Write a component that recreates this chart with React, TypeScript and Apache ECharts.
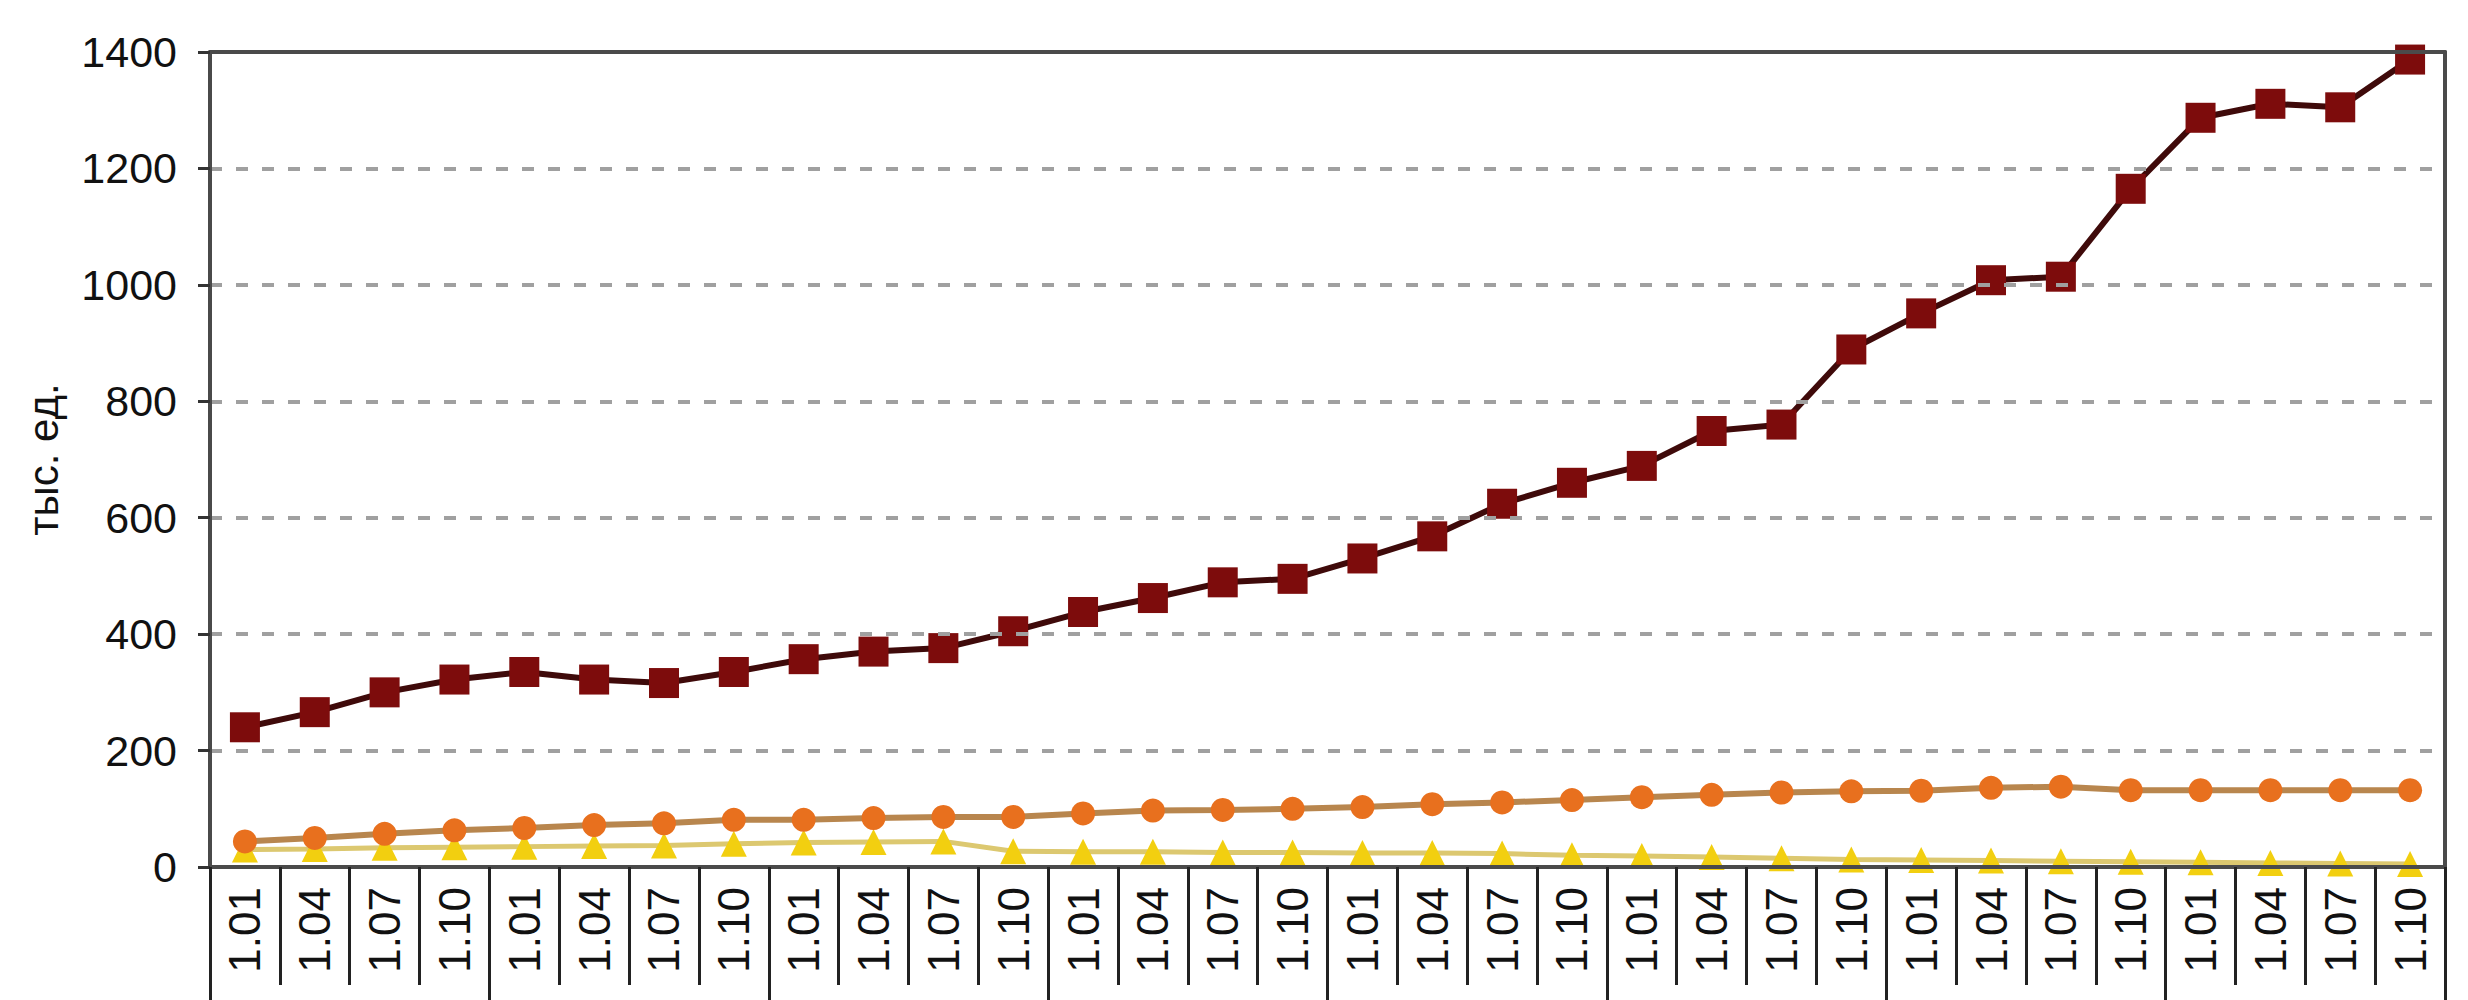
import React, { useEffect, useRef } from "react";
import * as echarts from "echarts";

const categories = [
  "1.01", "1.04", "1.07", "1.10",
  "1.01", "1.04", "1.07", "1.10",
  "1.01", "1.04", "1.07", "1.10",
  "1.01", "1.04", "1.07", "1.10",
  "1.01", "1.04", "1.07", "1.10",
  "1.01", "1.04", "1.07", "1.10",
  "1.01", "1.04", "1.07", "1.10",
  "1.01", "1.04", "1.07", "1.10",
];

const redSeries = [
  240, 266, 300, 322, 335, 322, 316, 335,
  357, 370, 376, 405, 438, 462, 489, 495,
  530, 568, 624, 660, 689, 749, 760, 889,
  951, 1008, 1014, 1165, 1287, 1311, 1305, 1387,
];

const orangeSeries = [
  44, 50, 57, 63, 67, 72, 75, 81,
  81, 84, 86, 86, 92, 97, 98, 100,
  103, 108, 111, 115, 120, 124, 128, 130,
  131, 136, 138, 132, 132, 132, 132, 132,
];

const yellowSeries = [
  30, 31, 33, 34, 35, 36, 37, 40,
  42, 43, 44, 27, 26, 26, 25, 25,
  24, 24, 23, 20, 19, 17, 15, 13,
  12, 11, 10, 9, 8, 7, 6, 5,
];

const yTicks = { min: 0, max: 1400, interval: 200 };
const yAxisName = "тыс. ед.";

const FONT = "'Liberation Sans', Arial, sans-serif";
const BORDER = "#4a4a4a";

export default function App() {
  const ref = useRef<HTMLDivElement>(null);

  useEffect(() => {
    if (!ref.current) return;
    const chart = echarts.init(ref.current, null, { renderer: "svg" });
    const option = {
      animation: false,
      backgroundColor: "#ffffff",
      textStyle: { fontFamily: FONT },
      grid: {
        left: 210,
        right: 23,
        top: 52,
        bottom: 133,
        show: false,
      },
      xAxis: [
        {
          type: "category",
          data: categories,
          boundaryGap: true,
          z: 5,
          axisLine: { show: true, lineStyle: { color: BORDER, width: 4 } },
          axisTick: {
            show: true,
            interval: 0,
            length: 118,
            lineStyle: { color: "#222222", width: 3 },
          },
          axisLabel: {
            interval: 0,
            rotate: 90,
            margin: 20,
            fontSize: 44,
            color: "#111111",
            fontFamily: FONT,
          },
          splitLine: { show: false },
        },
        {
          type: "category",
          data: categories,
          boundaryGap: true,
          position: "bottom",
          axisLine: { show: false },
          axisLabel: { show: false },
          axisTick: {
            show: true,
            interval: 3,
            length: 135,
            lineStyle: { color: "#222222", width: 3 },
          },
          splitLine: { show: false },
        },
        {
          type: "category",
          data: categories,
          boundaryGap: true,
          position: "top",
          z: 5,
          axisLine: { show: true, lineStyle: { color: BORDER, width: 4 } },
          axisLabel: { show: false },
          axisTick: { show: false },
          splitLine: { show: false },
        },
      ],
      yAxis: [
        {
          type: "value",
          min: yTicks.min,
          max: yTicks.max,
          interval: yTicks.interval,
          name: yAxisName,
          nameLocation: "middle",
          nameRotate: 90,
          nameGap: 146,
          nameTextStyle: { fontSize: 42, color: "#111111", fontFamily: FONT },
          z: 5,
          axisLine: { show: true, lineStyle: { color: BORDER, width: 4 } },
          axisTick: { show: true, length: 12, lineStyle: { color: "#333333", width: 3 } },
          axisLabel: {
            fontSize: 43,
            color: "#111111",
            margin: 33,
            fontFamily: FONT,
            formatter: (v: number) => String(v),
          },
          splitLine: {
            show: true,
            lineStyle: { color: "#a0a0a0", width: 4, type: [12, 14] },
          },
        },
        {
          type: "value",
          min: yTicks.min,
          max: yTicks.max,
          interval: yTicks.interval,
          position: "right",
          z: 5,
          axisLine: { show: true, lineStyle: { color: BORDER, width: 4 } },
          axisTick: { show: false },
          axisLabel: { show: false },
          splitLine: { show: false },
        },
      ],
      series: [
        {
          name: "yellow",
          type: "line",
          xAxisIndex: 0,
          yAxisIndex: 0,
          data: yellowSeries,
          symbol: "triangle",
          symbolSize: 26,
          z: 2,
          lineStyle: { color: "#dcc870", width: 5 },
          itemStyle: { color: "#f2cf10", borderWidth: 0 },
        },
        {
          name: "orange",
          type: "line",
          xAxisIndex: 0,
          yAxisIndex: 0,
          data: orangeSeries,
          symbol: "circle",
          symbolSize: 24,
          z: 3,
          lineStyle: { color: "#b8864e", width: 6 },
          itemStyle: { color: "#e8701e", borderWidth: 0 },
        },
        {
          name: "red",
          type: "line",
          xAxisIndex: 0,
          yAxisIndex: 0,
          data: redSeries,
          symbol: "rect",
          symbolSize: 30,
          z: 4,
          lineStyle: { color: "#3f0a0a", width: 6 },
          itemStyle: { color: "#7d0c0c", borderWidth: 0 },
        },
      ],
    };
    chart.setOption(option as any);
    return () => {
      chart.dispose();
    };
  }, []);

  return (
    <div
      ref={ref}
      style={{
        position: "fixed",
        left: 0,
        top: 0,
        width: "2468px",
        height: "1000px",
        background: "#ffffff",
      }}
    />
  );
}
